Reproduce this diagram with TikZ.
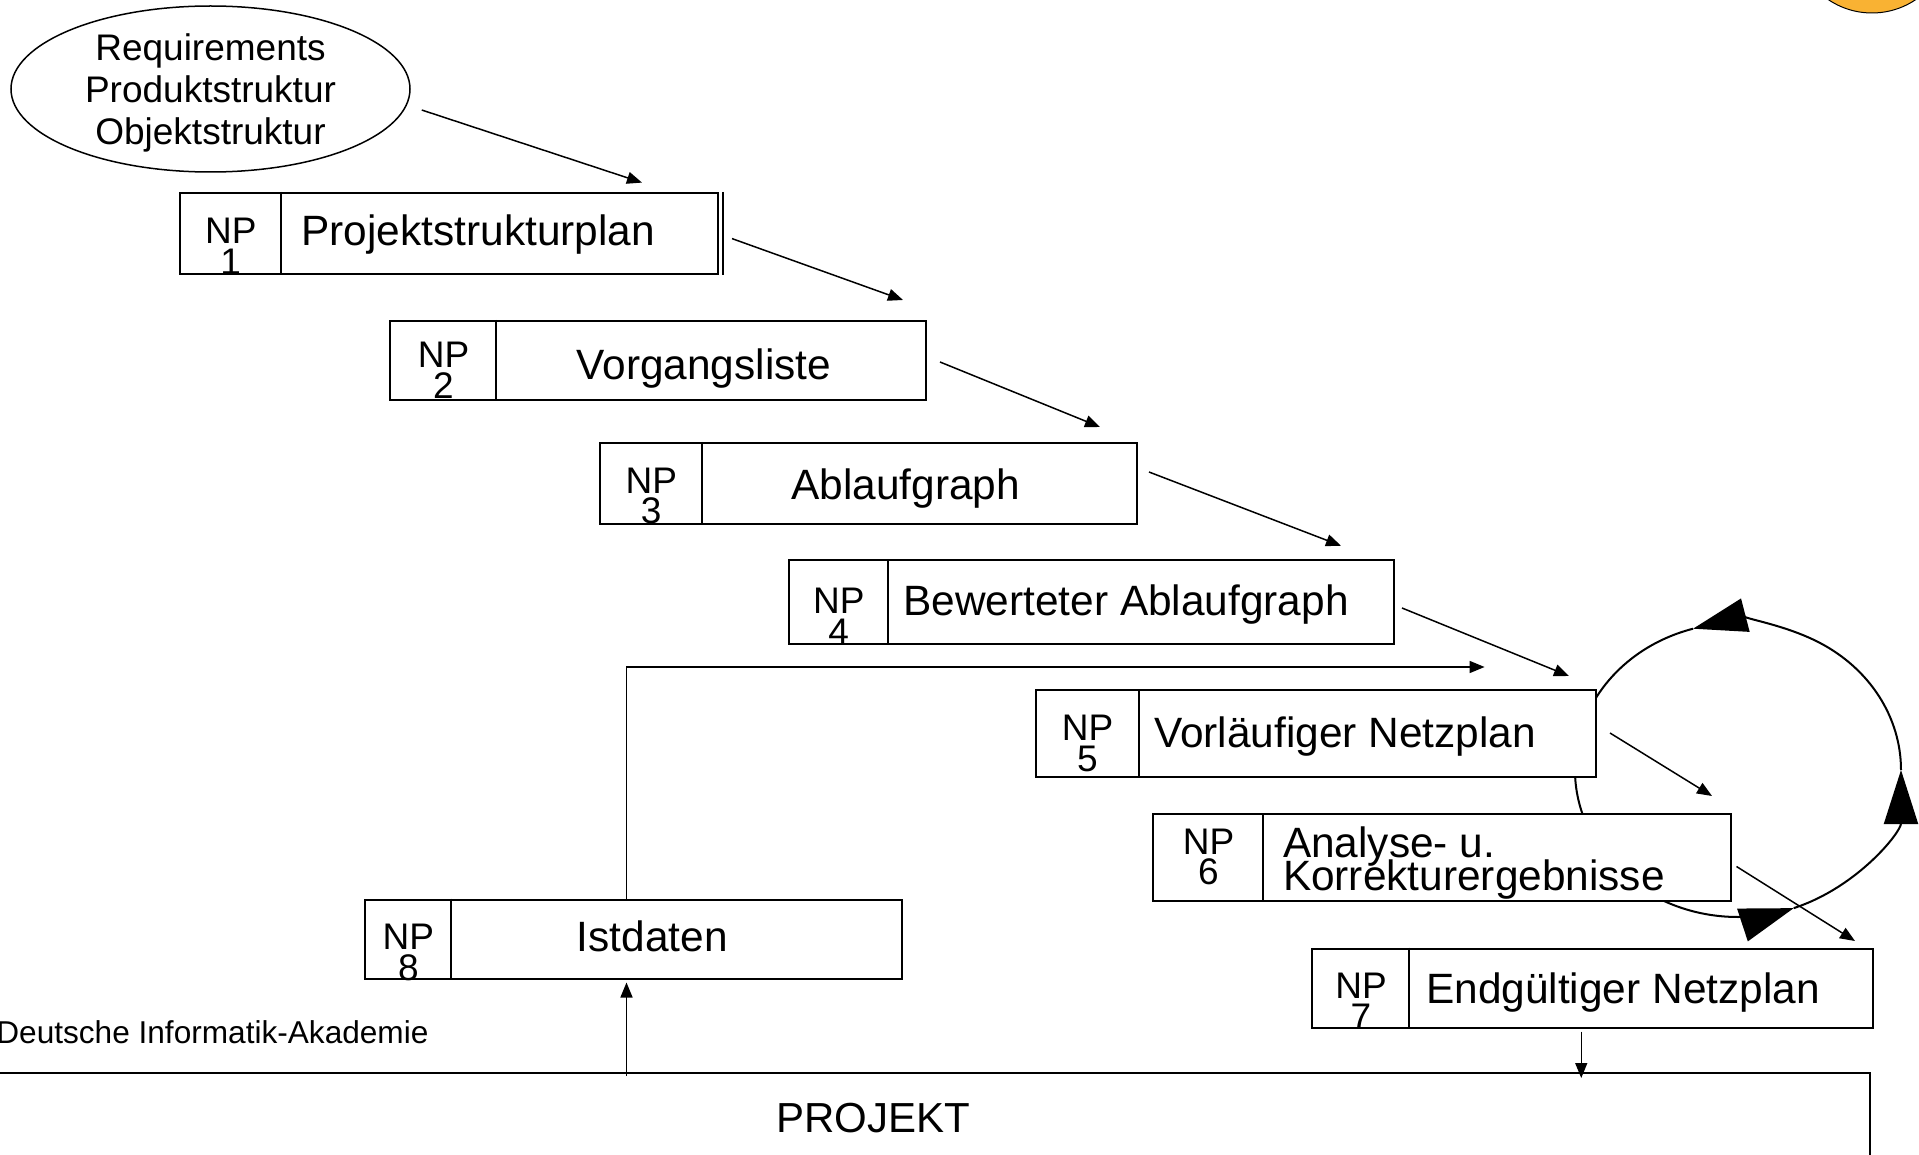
\documentclass[tikz,border=0pt]{standalone}
\usepackage{fontspec}
\setmainfont{Liberation Sans}
\usetikzlibrary{arrows.meta,shapes.geometric,calc}
\definecolor{logoorange}{RGB}{249,178,51}
\newcommand\labelfont{\fontsize{21.2}{16.5}\selectfont\lineskiplimit-20pt\relax}

\begin{document}
\begin{tikzpicture}[x=0.5pt,y=-0.5pt,>={Triangle[length=7.5pt,width=6pt]},
    npbox/.style={draw, fill=white, line width=1pt, inner sep=0pt},
    nptag/.style={align=center, inner sep=0pt, font=\fontsize{18.5}{15.3}\selectfont},
    boxtext/.style={inner sep=0pt, font=\labelfont},
    flow/.style={->, line width=0.75pt},
    loopline/.style={line width=1pt},
    bigtip/.style={-{Triangle[length=27pt,width=17pt]}}]
    \useasboundingbox (0,0) rectangle (1919,1155);

    % logo corner
    \draw[fill=logoorange, line width=0.5pt] (1872,-65) circle[radius=39pt];

    % correction loop (behind the boxes)
    \coordinate (loopc) at (1738,770);
    \draw[loopline, bigtip] (loopc) ++(-90:81.5pt and 73.5pt) arc[start angle=-90, end angle=-70, x radius=81.5pt, y radius=73.5pt];
    \draw[loopline, bigtip] (loopc) ++(-70:81.5pt and 73.5pt) arc[start angle=-70, end angle=0, x radius=81.5pt, y radius=73.5pt];
    \draw[loopline, bigtip] (loopc) ++(0:81.5pt and 73.5pt) arc[start angle=0, end angle=106, x radius=81.5pt, y radius=73.5pt];
    \draw[loopline] (loopc) ++(106:81.5pt and 73.5pt) arc[start angle=106, end angle=270, x radius=81.5pt, y radius=73.5pt];

    \node[draw, ellipse, line width=0.75pt, inner sep=0pt, minimum width=199.5pt, minimum height=83pt] (req) at (210.5,89) {};
    \node[align=center, inner sep=0pt, font=\fontsize{18.5}{20.8}\selectfont] (reqtext) at (210.5,93)
          {Requirements\\Produktstruktur\\Objektstruktur};

    \node[npbox, minimum width=269pt,    minimum height=40.5pt]  (b1) at (449,233.5)    {};
    \node[npbox, minimum width=268pt,    minimum height=39.5pt]  (b2) at (658,360.5)    {};
    \node[npbox, minimum width=268.5pt,  minimum height=40.5pt]  (b3) at (868.5,483.5)  {};
    \node[npbox, minimum width=302.5pt,  minimum height=41.75pt] (b4) at (1091.5,602)   {};
    \node[npbox, minimum width=280.25pt, minimum height=43.5pt]  (b5) at (1315.75,733.5) {};
    \node[npbox, minimum width=288.75pt, minimum height=43.5pt]  (b6) at (1441.75,857.5) {};
    \node[npbox, minimum width=280.25pt, minimum height=39.75pt] (b7) at (1592.25,988.25) {};
    \node[npbox, minimum width=268.5pt,  minimum height=39.75pt] (b8) at (633.5,939.25) {};
    \draw[line width=1pt] ([shift={(4,0)}]b1.north east) -- ([shift={(4,0)}]b1.south east);

    \foreach \b/\d in {b1/101.5, b2/107, b3/102.5, b4/99.5, b5/104, b6/111, b7/98, b8/86.6}
        \draw[line width=1pt] ([shift={(\d,0)}]\b.north west) -- ([shift={(\d,0)}]\b.south west);

    \foreach \n/\x/\y in {1/230.75/246.5, 2/443.5/370, 3/651.25/496, 4/838.75/616.5,
                          5/1087.5/743.3, 6/1208.5/857, 7/1361/1001.5, 8/408.3/952.5}
        \node[nptag] (np\n) at (\x,\y) {NP\\\n};

    \node[boxtext, anchor=west] (l1) at (301,235)     {Projektstrukturplan};
    \node[boxtext]              (l2) at (703.8,368.5) {Vorgangsliste};
    \node[boxtext]              (l3) at (905.7,488.4) {Ablaufgraph};
    \node[boxtext]              (l4) at (1126,604.2)  {Bewerteter Ablaufgraph};
    \node[boxtext]              (l5) at (1345,736.5)  {Vorläufiger Netzplan};
    \node[boxtext, anchor=west, align=left] (l6) at (1282.6,862.6) {Analyse- u.\\Korrekturergebnisse};
    \node[boxtext]              (l7) at (1623,992.2)  {Endgültiger Netzplan};
    \node[boxtext]              (l8) at (652.3,936.3) {Istdaten};

    \node[draw, line width=1pt, inner sep=0pt, minimum width=997pt, minimum height=45pt,
          font=\fontsize{21}{25}\selectfont] (proj) at (873,1118) {PROJEKT};
    \node[anchor=west, inner sep=0pt, font=\fontsize{15.8}{19}\selectfont] (dia) at (-4,1032)
          {Deutsche Informatik-Akademie};

    \draw[flow] ([shift={(11,21)}]req.east)   -- ([shift={(-77,-9.4)}]b1.north east);
    \draw[flow] ([shift={(13,5.1)}]b1.east)   -- ([shift={(-24,-20)}]b2.north east);
    \draw[flow] ([shift={(13,1.5)}]b2.east)   -- ([shift={(-38,-15)}]b3.north east);
    \draw[flow] ([shift={(11,-11.5)}]b3.east) -- ([shift={(-54,-13.5)}]b4.north east);
    \draw[flow] ([shift={(7,6)}]b4.east)      -- ([shift={(-28,-13)}]b5.north east);
    \draw[flow] ([shift={(13,-0.5)}]b5.east)  -- ([shift={(-19.5,-17)}]b6.north east);
    \draw[flow] ([shift={(5,9)}]b6.east)      -- ([shift={(-18.5,-6.5)}]b7.north east);
    \draw[flow] ([shift={(-11,2.5)}]b7.south) -- ($(b7.south |- proj.north)+(-11,6)$);
    \draw[flow] ($(b8.south |- proj.north)+(-7,4)$) -- ([shift={(-7,2.5)}]b8.south);

    \coordinate (fb) at (1484.6,667);
    \draw[flow] ([shift={(-7,0)}]b8.north) |- (fb);
\end{tikzpicture}
\end{document}
